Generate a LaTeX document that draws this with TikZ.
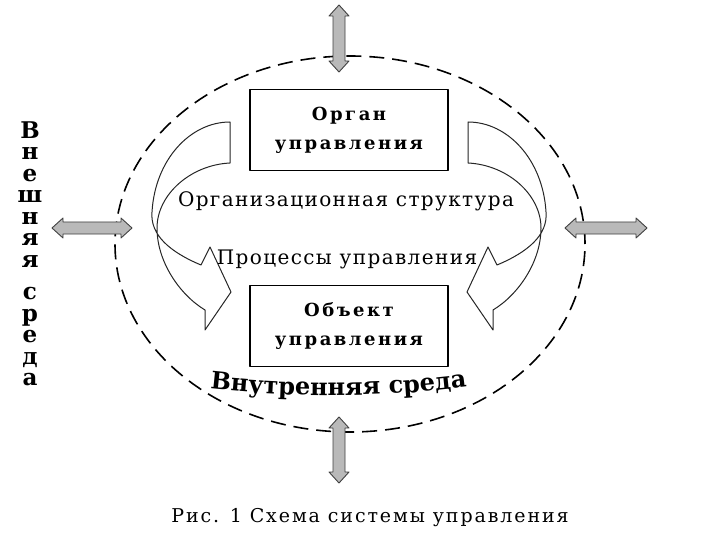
\documentclass[tikz,border=0pt]{standalone}
\usepackage{fontspec}
\setmainfont{DejaVu Serif}
\newfontfamily\spaced[LetterSpace=7]{DejaVu Serif}
\newfontfamily\spacedb[LetterSpace=14]{DejaVu Serif}
\newfontfamily\spacedc[LetterSpace=10]{DejaVu Serif}
\newfontfamily\heavy{DejaVu Serif}
\usetikzlibrary{decorations.text}

\begin{document}
\begin{tikzpicture}[x=1pt, y=-1pt, line join=round,
    blok/.style={rectangle, draw=black, line width=1.4pt, fill=white,
                 minimum width=198pt, minimum height=81pt, align=center,
                 font=\spacedb\bfseries\fontsize{18}{29}\selectfont},
    natpis/.style={font=\spaced\fontsize{20}{24}\selectfont, inner sep=0pt},
    strela/.style={draw=black!75, fill=gray!55, line width=0.9pt},
    luk/.style={draw=black!85, line width=1pt, fill=white}]

    \useasboundingbox (0,0) rectangle (720,540);

    % ---------------- sredina ----------------
    \draw [dashed, dash pattern=on 15pt off 8pt, line width=1.6pt] (350,244) ellipse [x radius=235pt, y radius=188pt];

    % ---------------- blokovi ----------------
    \node (organ)  [blok] at (349,130) {Орган\\управления};
    \node (objekt) [blok] at (349,326) {Объект\\управления};

    % ---------------- zakrivljene strelice ----------------
    \draw [luk] (230,122) -- (230,163) .. controls (190,165) and (157,195) .. (157,228)
        .. controls (157,262) and (180,295) .. (205,310) -- (205,330) -- (231,292) -- (210,247) -- (201,265)
        .. controls (170,252) and (150,235) .. (152,212) .. controls (155,160) and (190,122) .. (230,122) -- cycle;
    \draw [luk] (468,122) -- (468,163) .. controls (508,165) and (541,195) .. (541,228)
        .. controls (541,262) and (518,295) .. (493,310) -- (493,330) -- (467,292) -- (488,247) -- (497,265)
        .. controls (528,252) and (548,235) .. (546,212) .. controls (543,160) and (508,122) .. (468,122) -- cycle;

    \node (struktura) [natpis] at (346,201) {Организационная структура};
    \node (procesi)   [natpis] at (347,259) {Процессы управления};

    % ---------------- veze sa okruzenjem ----------------
    % x/y/ugao/duzina
    \foreach \x/\y/\ugao/\duz in {339/38.5/90/67, 339/450/90/66, 92/228/0/80, 606/228/0/82} {
        \draw [strela, shift={(\x,\y)}, rotate=\ugao]
            (-\duz/2,0) -- ++(11,-10) -- ++(0,4) -- (\duz/2-11,-6) -- ++(0,-4) -- (\duz/2,0)
            -- ++(-11,10) -- ++(0,-4) -- (-\duz/2+11,6) -- ++(0,4) -- cycle;
    }

    % ---------------- sredine ----------------
    \node (spolja) [align=center, inner sep=0pt, font=\heavy\bfseries\fontsize{23}{21.5}\selectfont]
        at (30,254) {В\\н\\е\\ш\\н\\я\\я\\[11pt]с\\р\\е\\д\\а};
    \path [decorate, decoration={text along path, text align=center,
        text={|\heavy\bfseries\fontsize{24}{28}\selectfont|Внутренняя среда}}]
        (203,388) .. controls (285,398) and (390,398) .. (474,386);

    % ---------------- potpis ----------------
    \node (potpis) [font=\spacedc\fontsize{19}{24}\selectfont, inner sep=0pt] at (370,518) {Рис. 1 Схема системы управления};
\end{tikzpicture}
\end{document}
